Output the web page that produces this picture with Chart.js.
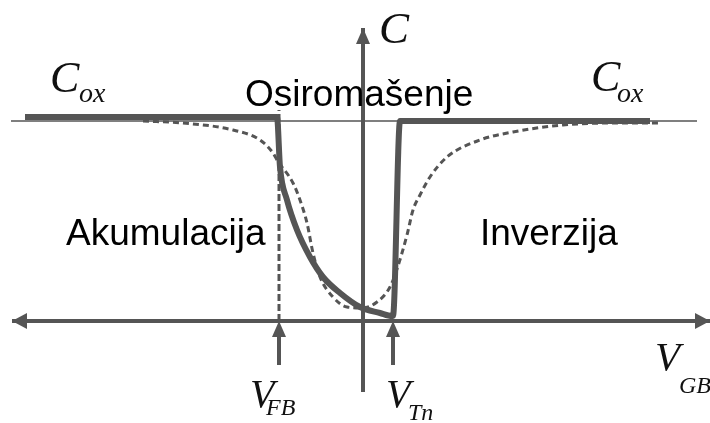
<!DOCTYPE html>
<html>
<head>
<meta charset="utf-8">
<script src="https://cdn.jsdelivr.net/npm/chart.js@4.4.1/dist/chart.umd.min.js"></script>
<style>
  html, body { margin: 0; padding: 0; background: #fff; }
  #wrap { width: 710px; height: 423px; position: relative; }
</style>
</head>
<body>
<div id="wrap"><canvas id="cv"></canvas></div>
<script>
// high-frequency C-V curve (normalised C/Cox vs gate voltage)
const vgbHF = [-3.38, -0.86, -0.83, -0.76, -0.66, -0.53, -0.40, -0.23, -0.03, 0.17, 0.29, 0.30, 0.37, 2.87];
const cHF   = [1.02, 1.02, 0.77, 0.605, 0.455, 0.32, 0.22, 0.14, 0.07, 0.04, 0.025, 0.025, 1.0, 1.0];

// low-frequency C-V curve
const vgbLF = [-2.20, -1.80, -1.30, -1.03, -0.90, -0.86, -0.70, -0.63, -0.56, -0.50, -0.43, -0.30, -0.16, 0.0, 0.14, 0.27, 0.34, 0.44, 0.50, 0.57, 0.67, 0.84, 1.17, 1.50, 2.00, 2.50, 2.97];
const cLF   = [1.0, 0.99, 0.955, 0.905, 0.84, 0.805, 0.69, 0.605, 0.49, 0.34, 0.22, 0.12, 0.07, 0.065, 0.095, 0.17, 0.26, 0.43, 0.555, 0.63, 0.72, 0.82, 0.905, 0.945, 0.98, 0.99, 0.99];

const cox = 1.0;
const vFB = -0.84;
const vTn = 0.30;

// axis extents
const xAxisRange = [-3.51, 3.47];
const yAxisRange = [-0.355, 1.465];
const coxRange = [-3.52, 3.34];
const markerFoot = -0.22;

const gray = 'rgb(85,85,85)';

const pts = (xs, ys) => xs.map((x, i) => ({x: x, y: ys[i]}));

const serif = 'italic {s}px "Liberation Serif", "Times New Roman", serif';
const sans = '37px "Liberation Sans", Arial, sans-serif';

// text labels, anchored in data units
const labels = [
    {t: 'C', x: 0.16, y: 1.39, f: serif.replace('{s}', 45)},
    {t: 'C', x: -3.13, y: 1.145, f: serif.replace('{s}', 44)},
    {t: 'ox', x: -2.84, y: 1.095, f: serif.replace('{s}', 28)},
    {t: 'C', x: 2.28, y: 1.15, f: serif.replace('{s}', 44)},
    {t: 'ox', x: 2.54, y: 1.095, f: serif.replace('{s}', 28)},
    {t: 'Osiromašenje', x: -1.18, y: 1.075, f: sans},
    {t: 'Akumulacija', x: -2.97, y: 0.38, f: sans},
    {t: 'Inverzija', x: 1.17, y: 0.38, f: sans},
    {t: 'V', x: -1.13, y: -0.43, f: serif.replace('{s}', 40)},
    {t: 'FB', x: -0.97, y: -0.47, f: serif.replace('{s}', 24)},
    {t: 'V', x: 0.23, y: -0.43, f: serif.replace('{s}', 40)},
    {t: 'Tn', x: 0.45, y: -0.495, f: serif.replace('{s}', 24)},
    {t: 'V', x: 2.92, y: -0.245, f: serif.replace('{s}', 41)},
    {t: 'GB', x: 3.16, y: -0.36, f: serif.replace('{s}', 24)}
];

function head(ctx, tx, ty, dir, len, half) {
    // filled triangle with its tip at (tx, ty), pointing along dir
    const [dx, dy] = dir;
    const bx = tx - dx * len, by = ty - dy * len;
    ctx.beginPath();
    ctx.moveTo(tx, ty);
    ctx.lineTo(bx - dy * half, by + dx * half);
    ctx.lineTo(bx + dy * half, by - dx * half);
    ctx.closePath();
    ctx.fill();
}

const decor = {
    id: 'decor',
    afterDatasetsDraw(chart) {
        const ctx = chart.ctx;
        const xs = chart.scales.x, ys = chart.scales.y;
        ctx.save();
        ctx.fillStyle = gray;
        const y0 = ys.getPixelForValue(0), x0 = xs.getPixelForValue(0);
        head(ctx, xs.getPixelForValue(xAxisRange[0]), y0, [-1, 0], 15, 8);
        head(ctx, xs.getPixelForValue(xAxisRange[1]), y0, [1, 0], 15, 8);
        head(ctx, x0, ys.getPixelForValue(yAxisRange[1]), [0, -1], 16, 7);
        head(ctx, xs.getPixelForValue(vFB), y0, [0, -1], 16, 7);
        head(ctx, xs.getPixelForValue(vTn), y0, [0, -1], 16, 7);

        ctx.textBaseline = 'alphabetic';
        labels.forEach(l => {
            ctx.font = l.f;
            ctx.fillStyle = l.f === sans ? '#000' : '#111';
            ctx.fillText(l.t, xs.getPixelForValue(l.x), ys.getPixelForValue(l.y));
        });
        ctx.restore();
    }
};

new Chart(document.getElementById('cv'), {
    type: 'line',
    data: {
        datasets: [
            {data: pts(vgbHF, cHF), borderColor: gray, borderWidth: 6, cubicInterpolationMode: 'monotone', borderCapStyle: 'butt', borderJoinStyle: 'round', order: 1},
            {data: pts(vgbLF, cLF), borderColor: gray, borderWidth: 3, borderDash: [6, 4], cubicInterpolationMode: 'monotone', order: 2},
            {data: pts(coxRange, [cox, cox]), borderColor: gray, borderWidth: 1.5, order: 3},
            {data: pts([vFB, vFB], [0, 1.055]), borderColor: gray, borderWidth: 3, borderDash: [7, 3], order: 4},
            {data: pts(xAxisRange, [0, 0]), borderColor: gray, borderWidth: 4, order: 5},
            {data: pts([0, 0], yAxisRange), borderColor: gray, borderWidth: 4, order: 5},
            {data: pts([vFB, vFB], [markerFoot, -0.05]), borderColor: gray, borderWidth: 4, order: 5},
            {data: pts([vTn, vTn], [markerFoot, -0.05]), borderColor: gray, borderWidth: 4, order: 5}
        ]
    },
    options: {
        responsive: true,
        maintainAspectRatio: false,
        animation: false,
        layout: {padding: 0},
        elements: {point: {radius: 0, hoverRadius: 0}},
        plugins: {legend: {display: false}, tooltip: {enabled: false}},
        scales: {
            x: {type: 'linear', min: -3.63, max: 3.47, display: false},
            y: {type: 'linear', min: -0.51, max: 1.605, display: false}
        }
    },
    plugins: [decor]
});
</script>
</body>
</html>
